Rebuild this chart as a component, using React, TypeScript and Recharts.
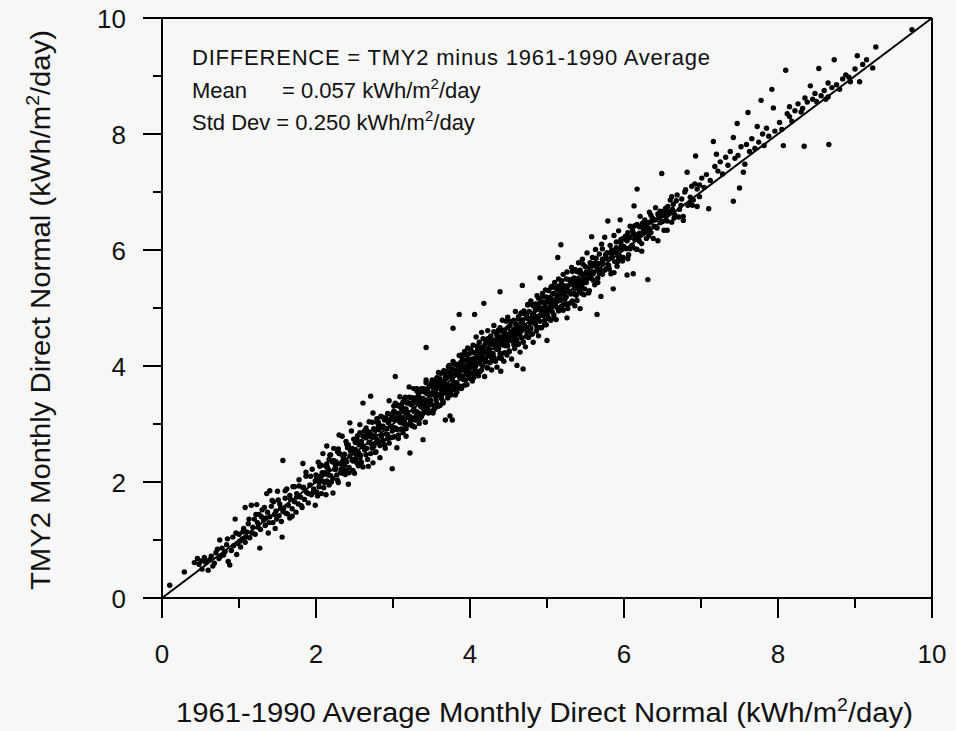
import React from 'react';
import { ScatterChart, Scatter, XAxis, YAxis, ReferenceLine } from 'recharts';

// axis ticks (every unit, labels on even values)
const xTicks = [0, 1, 2, 3, 4, 5, 6, 7, 8, 9, 10];
const yTicks = [0, 1, 2, 3, 4, 5, 6, 7, 8, 9, 10];

// points: [1961-1990 average, TMY2]
const ptsLow = [
  [0.10, 0.22], [0.29, 0.45], [0.42, 0.61], [0.46, 0.68], [0.50, 0.64], [0.55, 0.70], [0.58, 0.62], [0.62, 0.66],
  [0.66, 0.55], [0.60, 0.48], [0.52, 0.50], [0.70, 0.78], [0.74, 0.68], [0.75, 1.00], [0.78, 0.86], [0.80, 0.74],
  [0.84, 0.92], [0.88, 0.57], [0.86, 0.63], [0.90, 0.82], [0.92, 1.05], [0.95, 1.36], [0.97, 0.75], [0.98, 0.94],
  [1.00, 1.10], [1.02, 0.88], [1.04, 1.02], [1.06, 1.20], [1.08, 1.56], [1.08, 0.96], [1.10, 1.14], [1.12, 1.28],
  [1.14, 1.04], [1.16, 1.60], [1.18, 1.22], [1.20, 1.36], [1.21, 1.10], [1.23, 1.61], [1.24, 1.30], [1.26, 1.44],
  [1.27, 0.86], [1.28, 1.18], [1.30, 1.52], [1.32, 1.34], [1.34, 1.25], [1.36, 1.80], [1.37, 1.48], [1.38, 1.12],
  [1.40, 1.40], [1.40, 1.85], [1.42, 1.58], [1.44, 1.30], [1.45, 1.66], [1.47, 1.20], [1.48, 1.50], [1.50, 1.84],
  [1.52, 1.42], [1.53, 1.62], [1.55, 1.32], [1.56, 1.05], [1.57, 2.37], [1.58, 1.55], [1.60, 1.72], [1.61, 1.46],
  [1.62, 1.88], [1.64, 1.60], [1.66, 1.38], [1.67, 1.70], [1.69, 1.54], [1.70, 1.92], [1.72, 1.66], [1.74, 1.48],
  [1.75, 1.80], [1.77, 1.62], [1.78, 2.04], [1.80, 1.74], [1.82, 1.56], [1.83, 2.32], [1.83, 1.90], [1.85, 1.70],
  [1.87, 2.10], [1.88, 1.82], [1.90, 1.64], [1.92, 1.95], [1.94, 1.78], [1.95, 2.22], [1.97, 1.88], [1.99, 1.60],
  [0.48, 0.58], [0.56, 0.62], [0.64, 0.72], [0.68, 0.60], [0.72, 0.84], [0.76, 0.72], [0.82, 0.80], [0.85, 1.02],
  [0.93, 0.90], [0.96, 1.12], [1.01, 0.98], [1.05, 1.14], [1.09, 1.05], [1.13, 1.36], [1.17, 1.12], [1.22, 1.44],
  [1.25, 1.22], [1.29, 1.40], [1.33, 1.56], [1.35, 1.38], [1.39, 1.30], [1.43, 1.68], [1.46, 1.44], [1.49, 1.36],
  [1.51, 1.69], [1.54, 1.55], [1.57, 1.49], [1.60, 1.85], [1.63, 1.45], [1.66, 1.77], [1.69, 1.41], [1.72, 1.92],
  [1.75, 1.74], [1.78, 1.93], [1.81, 1.59], [1.84, 1.91], [1.87, 2.17], [1.90, 1.80], [1.93, 2.10], [1.96, 1.82],
  [1.99, 2.02],
];

const pts2to3 = [
  [2.00, 2.12], [2.01, 1.83], [2.03, 2.34], [2.04, 1.99], [2.05, 2.27], [2.07, 1.80], [2.08, 2.16], [2.09, 2.49],
  [2.11, 1.99], [2.12, 2.14], [2.13, 1.78], [2.14, 2.31], [2.14, 2.62], [2.16, 2.21], [2.17, 1.95], [2.18, 2.46],
  [2.19, 2.11], [2.21, 2.35], [2.22, 1.81], [2.23, 2.58], [2.24, 2.22], [2.26, 2.35], [2.27, 2.12], [2.28, 2.52],
  [2.29, 1.99], [2.30, 2.49], [2.30, 2.81], [2.32, 2.32], [2.33, 2.23], [2.34, 2.79], [2.35, 2.15], [2.37, 2.48],
  [2.38, 2.20], [2.39, 2.70], [2.40, 2.35], [2.42, 2.64], [2.42, 1.96], [2.43, 2.16], [2.44, 3.02], [2.45, 2.53],
  [2.46, 2.88], [2.48, 2.36], [2.49, 2.52], [2.50, 2.15], [2.51, 2.68], [2.52, 2.47], [2.54, 2.80], [2.55, 2.28],
  [2.56, 2.64], [2.57, 2.99], [2.58, 2.46], [2.60, 2.62], [2.61, 3.36], [2.61, 2.26], [2.62, 2.79], [2.63, 2.57],
  [2.65, 2.93], [2.66, 2.58], [2.67, 2.81], [2.68, 2.27], [2.69, 3.04], [2.70, 2.68], [2.71, 3.48], [2.72, 2.81],
  [2.73, 2.58], [2.74, 2.33], [2.74, 3.19], [2.76, 2.66], [2.77, 2.89], [2.78, 2.52], [2.79, 3.09], [2.80, 2.72],
  [2.81, 2.95], [2.83, 2.42], [2.84, 3.13], [2.85, 2.79], [2.86, 2.94], [2.87, 2.71], [2.88, 3.11], [2.90, 2.58],
  [2.91, 3.10], [2.92, 2.92], [2.93, 2.82], [2.95, 3.40], [2.96, 2.76], [2.97, 3.08], [2.99, 2.23], [2.99, 2.88],
  [2.06, 2.10], [2.15, 2.25], [2.25, 2.30], [2.36, 2.42], [2.47, 2.58], [2.59, 2.70], [2.70, 2.86], [2.82, 2.90],
  [2.94, 3.02], [2.02, 1.76], [2.05, 2.29], [2.08, 2.02], [2.11, 2.16], [2.14, 2.02], [2.17, 2.39], [2.20, 2.00],
  [2.23, 2.37], [2.26, 2.22], [2.29, 2.57], [2.32, 2.16], [2.35, 2.44], [2.38, 2.13], [2.41, 2.59], [2.44, 2.45],
  [2.47, 2.39], [2.49, 2.74], [2.01, 2.06], [2.04, 1.92], [2.07, 2.29], [2.10, 1.90], [2.13, 2.27], [2.16, 2.12],
  [2.19, 2.47], [2.22, 2.06], [2.25, 2.34], [2.28, 2.03], [2.31, 2.49], [2.34, 2.35], [2.37, 2.29], [2.40, 2.65],
  [2.43, 2.25], [2.46, 2.57], [2.48, 2.20],
];

const pts3to4 = [
  [3.00, 2.94], [3.01, 3.22], [3.02, 2.78], [3.03, 3.36], [3.03, 3.82], [3.04, 3.08], [3.05, 2.59], [3.05, 2.91],
  [3.06, 3.33], [3.07, 2.75], [3.08, 3.18], [3.09, 3.47], [3.10, 2.91], [3.11, 3.26], [3.12, 3.09], [3.13, 3.38],
  [3.13, 2.85], [3.14, 3.21], [3.15, 3.04], [3.16, 3.46], [3.17, 2.79], [3.18, 3.36], [3.19, 3.19], [3.20, 2.99],
  [3.21, 3.64], [3.22, 2.50], [3.22, 3.13], [3.23, 3.36], [3.24, 2.98], [3.25, 3.45], [3.26, 3.10], [3.27, 3.61],
  [3.28, 2.95], [3.29, 3.45], [3.30, 3.14], [3.31, 3.57], [3.32, 3.19], [3.33, 3.36], [3.34, 3.01], [3.35, 3.55],
  [3.36, 3.30], [3.37, 3.13], [3.38, 3.42], [3.39, 2.73], [3.39, 3.18], [3.40, 3.61], [3.41, 3.31], [3.42, 3.03],
  [3.43, 4.32], [3.43, 3.76], [3.44, 3.25], [3.45, 3.60], [3.46, 3.19], [3.47, 3.37], [3.48, 3.51], [3.49, 3.21],
  [3.50, 3.71], [3.51, 3.54], [3.52, 3.19], [3.53, 3.67], [3.54, 3.27], [3.55, 3.62], [3.56, 3.41], [3.57, 3.80],
  [3.58, 3.30], [3.59, 3.49], [3.60, 3.71], [3.61, 3.32], [3.62, 3.87], [3.63, 3.44], [3.64, 3.53], [3.65, 3.36],
  [3.66, 3.92], [3.67, 3.55], [3.68, 3.07], [3.68, 3.81], [3.69, 3.53], [3.70, 3.79], [3.71, 3.45], [3.72, 3.99],
  [3.73, 3.64], [3.74, 3.14], [3.74, 3.90], [3.75, 3.55], [3.76, 3.81], [3.77, 3.07], [3.77, 3.68], [3.78, 4.65],
  [3.78, 4.08], [3.79, 3.60], [3.80, 3.85], [3.81, 3.50], [3.82, 4.02], [3.83, 3.71], [3.84, 3.95], [3.85, 3.62],
  [3.86, 4.89], [3.86, 4.18], [3.87, 3.79], [3.88, 4.06], [3.89, 3.61], [3.90, 4.12], [3.91, 3.83], [3.92, 3.99],
  [3.93, 4.25], [3.94, 3.76], [3.95, 4.10], [3.96, 3.68], [3.97, 4.31], [3.98, 3.92], [3.99, 4.05],
  [3.02, 3.07], [3.06, 3.12], [3.11, 3.02], [3.15, 3.24], [3.19, 3.11], [3.24, 3.33], [3.27, 3.22], [3.31, 3.40],
  [3.36, 3.44], [3.40, 3.33], [3.44, 3.52], [3.48, 3.39], [3.52, 3.63], [3.55, 3.48], [3.59, 3.66], [3.63, 3.58],
  [3.66, 3.73], [3.70, 3.62], [3.73, 3.84], [3.77, 3.85], [3.80, 3.71], [3.84, 3.92], [3.88, 3.82], [3.91, 4.01],
  [3.95, 3.90], [3.98, 4.12],
];

const pts4to5 = [
  [4.00, 3.88], [4.01, 4.27], [4.02, 4.05], [4.03, 3.74], [4.04, 4.36], [4.05, 4.12], [4.06, 4.89], [4.06, 3.95],
  [4.07, 4.22], [4.08, 4.50], [4.09, 3.86], [4.10, 4.28], [4.11, 4.04], [4.12, 4.41], [4.13, 3.90], [4.14, 4.19],
  [4.15, 4.58], [4.16, 4.01], [4.17, 4.33], [4.18, 5.08], [4.18, 4.12], [4.19, 3.82], [4.20, 4.44], [4.21, 4.26],
  [4.22, 3.97], [4.23, 4.61], [4.24, 4.18], [4.25, 4.39], [4.26, 4.06], [4.27, 4.52], [4.28, 3.93], [4.29, 4.37],
  [4.30, 4.21], [4.31, 4.70], [4.32, 4.10], [4.33, 4.45], [4.34, 4.29], [4.35, 3.98], [4.36, 4.58], [4.37, 4.33],
  [4.38, 4.14], [4.39, 5.28], [4.39, 4.66], [4.40, 3.91], [4.40, 4.42], [4.41, 4.21], [4.42, 4.79], [4.43, 4.48],
  [4.44, 4.08], [4.45, 4.62], [4.46, 4.35], [4.47, 4.55], [4.48, 4.19], [4.49, 4.84], [4.50, 4.43], [4.51, 4.26],
  [4.52, 4.70], [4.53, 4.51], [4.54, 4.12], [4.55, 4.77], [4.56, 4.45], [4.57, 4.63], [4.58, 4.30], [4.59, 4.94],
  [4.60, 4.52], [4.61, 4.01], [4.61, 4.71], [4.62, 4.37], [4.63, 4.85], [4.64, 4.55], [4.65, 4.24], [4.66, 4.90],
  [4.67, 4.61], [4.68, 5.39], [4.68, 4.74], [4.69, 3.95], [4.69, 4.42], [4.70, 4.95], [4.71, 4.65], [4.72, 4.33],
  [4.73, 4.88], [4.74, 4.58], [4.75, 5.06], [4.76, 4.49], [4.77, 4.80], [4.78, 4.62], [4.79, 5.12], [4.80, 4.55],
  [4.81, 4.87], [4.82, 4.41], [4.83, 5.03], [4.84, 4.73], [4.85, 4.96], [4.86, 4.60], [4.87, 5.21], [4.88, 4.81],
  [4.89, 4.52], [4.90, 5.08], [4.91, 5.52], [4.91, 4.77], [4.92, 4.98], [4.93, 4.66], [4.94, 5.25], [4.95, 4.88],
  [4.96, 5.10], [4.97, 4.71], [4.98, 5.31], [4.99, 4.92],
  [4.02, 4.10], [4.05, 4.01], [4.09, 4.16], [4.13, 4.09], [4.16, 4.25], [4.20, 4.13], [4.24, 4.30], [4.27, 4.22],
  [4.31, 4.38], [4.35, 4.30], [4.38, 4.47], [4.42, 4.36], [4.45, 4.53], [4.49, 4.45], [4.53, 4.60], [4.56, 4.52],
  [4.60, 4.67], [4.64, 4.60], [4.67, 4.76], [4.71, 4.70], [4.75, 4.83], [4.78, 4.75], [4.82, 4.90], [4.86, 4.81],
  [4.89, 4.98], [4.93, 4.89], [4.97, 5.02],
];

// the solid core of the band between 2.5 and 5.5
const ptsCore = [
  [2.51, 2.56], [2.51, 2.39], [2.53, 2.75], [2.53, 2.33], [2.55, 2.69], [2.55, 2.51], [2.57, 2.85], [2.57, 2.41],
  [2.59, 2.68], [2.59, 2.34], [2.61, 2.79], [2.61, 2.62], [2.63, 2.55], [2.63, 2.88], [2.65, 2.47], [2.65, 2.76],
  [2.67, 2.39], [2.67, 2.87], [2.69, 2.68], [2.69, 2.84], [2.71, 2.49], [2.71, 2.78], [2.73, 3.03], [2.73, 2.63],
  [2.75, 2.92], [2.75, 2.61], [2.77, 2.80], [2.77, 2.51], [2.79, 3.03], [2.79, 2.73], [2.81, 2.69], [2.81, 3.03],
  [2.83, 2.63], [2.83, 2.97], [2.85, 2.81], [2.85, 3.13], [2.87, 2.71], [2.87, 2.96], [2.89, 2.64], [2.89, 3.07],
  [2.91, 2.92], [2.91, 2.83], [2.93, 3.18], [2.93, 2.75], [2.95, 3.06], [2.95, 2.67], [2.97, 3.17], [2.97, 2.96],
  [2.99, 3.14], [2.99, 2.77], [3.01, 3.08], [3.01, 3.31], [3.03, 2.93], [3.03, 3.20], [3.05, 2.91], [3.05, 3.08],
  [3.07, 2.81], [3.07, 3.31], [3.09, 3.03], [3.09, 3.14], [3.11, 3.33], [3.11, 2.91], [3.13, 3.27], [3.13, 3.09],
  [3.15, 3.43], [3.15, 2.99], [3.17, 3.26], [3.17, 2.92], [3.19, 3.37], [3.19, 3.20], [3.21, 3.13], [3.21, 3.46],
  [3.23, 3.05], [3.23, 3.34], [3.25, 2.97], [3.25, 3.45], [3.27, 3.26], [3.27, 3.42], [3.29, 3.07], [3.29, 3.36],
  [3.31, 3.61], [3.31, 3.21], [3.33, 3.50], [3.33, 3.19], [3.35, 3.38], [3.35, 3.09], [3.37, 3.61], [3.37, 3.31],
  [3.39, 3.44], [3.39, 3.27], [3.41, 3.21], [3.41, 3.55], [3.43, 3.39], [3.43, 3.71], [3.45, 3.29], [3.45, 3.54],
  [3.47, 3.22], [3.47, 3.65], [3.49, 3.50], [3.49, 3.41], [3.51, 3.76], [3.51, 3.33], [3.53, 3.64], [3.53, 3.25],
  [3.55, 3.75], [3.55, 3.54], [3.57, 3.72], [3.57, 3.35], [3.59, 3.66], [3.59, 3.89], [3.61, 3.51], [3.61, 3.78],
  [3.63, 3.49], [3.63, 3.66], [3.65, 3.39], [3.65, 3.89], [3.67, 3.61], [3.67, 3.72], [3.69, 3.57], [3.69, 3.91],
  [3.71, 3.85], [3.71, 3.67], [3.73, 4.01], [3.73, 3.57], [3.75, 3.84], [3.75, 3.50], [3.77, 3.95], [3.77, 3.78],
  [3.79, 3.71], [3.79, 4.04], [3.81, 3.63], [3.81, 3.92], [3.83, 3.55], [3.83, 4.03], [3.85, 3.84], [3.85, 4.00],
  [3.87, 3.65], [3.87, 3.94], [3.89, 4.19], [3.89, 3.79], [3.91, 4.08], [3.91, 3.77], [3.93, 3.96], [3.93, 3.67],
  [3.95, 4.19], [3.95, 3.89], [3.97, 4.02], [3.97, 3.85], [3.99, 4.21], [3.99, 3.79], [4.01, 3.97], [4.01, 4.29],
  [4.03, 3.87], [4.03, 4.12], [4.05, 3.80], [4.05, 4.23], [4.07, 4.08], [4.07, 3.99], [4.09, 4.34], [4.09, 3.91],
  [4.11, 4.22], [4.11, 3.83], [4.13, 4.33], [4.13, 4.12], [4.15, 4.30], [4.15, 3.93], [4.17, 4.24], [4.17, 4.47],
  [4.19, 4.09], [4.19, 4.36], [4.21, 4.07], [4.21, 4.24], [4.23, 3.97], [4.23, 4.47], [4.25, 4.19], [4.25, 4.30],
  [4.27, 4.15], [4.27, 4.49], [4.29, 4.09], [4.29, 4.43], [4.31, 4.59], [4.31, 4.15], [4.33, 4.42], [4.33, 4.08],
  [4.35, 4.53], [4.35, 4.36], [4.37, 4.29], [4.37, 4.62], [4.39, 4.21], [4.39, 4.50], [4.41, 4.13], [4.41, 4.61],
  [4.43, 4.42], [4.43, 4.58], [4.45, 4.23], [4.45, 4.52], [4.47, 4.77], [4.47, 4.37], [4.49, 4.66], [4.49, 4.35],
  [4.51, 4.54], [4.51, 4.25], [4.53, 4.77], [4.53, 4.47], [4.55, 4.60], [4.55, 4.43], [4.57, 4.79], [4.57, 4.37],
  [4.59, 4.73], [4.59, 4.55], [4.61, 4.45], [4.61, 4.70], [4.63, 4.38], [4.63, 4.81], [4.65, 4.66], [4.65, 4.57],
  [4.67, 4.92], [4.67, 4.49], [4.69, 4.80], [4.69, 4.41], [4.71, 4.91], [4.71, 4.70], [4.73, 4.88], [4.73, 4.51],
  [4.75, 4.82], [4.75, 5.05], [4.77, 4.67], [4.77, 4.94], [4.79, 4.65], [4.79, 4.82], [4.81, 4.55], [4.81, 5.05],
  [4.83, 4.77], [4.83, 4.88], [4.85, 4.73], [4.85, 5.07], [4.87, 4.67], [4.87, 5.01], [4.89, 4.85], [4.89, 5.17],
  [4.91, 5.00], [4.91, 4.66], [4.93, 5.11], [4.93, 4.94], [4.95, 4.87], [4.95, 5.20], [4.97, 4.79], [4.97, 5.08],
  [4.99, 4.71], [4.99, 5.19], [5.01, 5.00], [5.01, 5.16], [5.03, 4.81], [5.03, 5.10], [5.05, 5.35], [5.05, 4.95],
  [5.07, 5.24], [5.07, 4.93], [5.09, 5.12], [5.09, 4.83], [5.11, 5.35], [5.11, 5.05], [5.13, 5.18], [5.13, 5.01],
  [5.15, 5.37], [5.15, 4.95], [5.17, 5.31], [5.17, 5.13], [5.19, 5.47], [5.19, 5.03], [5.21, 4.96], [5.21, 5.39],
  [5.23, 5.24], [5.23, 5.15], [5.25, 5.50], [5.25, 5.07], [5.27, 5.38], [5.27, 4.99], [5.29, 5.49], [5.29, 5.28],
  [5.31, 5.46], [5.31, 5.09], [5.33, 5.40], [5.33, 5.63], [5.35, 5.25], [5.35, 5.52], [5.37, 5.23], [5.37, 5.40],
  [5.39, 5.13], [5.39, 5.63], [5.41, 5.35], [5.41, 5.46], [5.43, 5.31], [5.43, 5.65], [5.45, 5.25], [5.45, 5.59],
  [5.47, 5.43], [5.47, 5.75], [5.49, 5.33], [5.49, 5.58],
];

const pts5to6 = [
  [5.00, 4.44], [5.00, 5.11], [5.01, 4.86], [5.02, 5.30], [5.03, 4.95], [5.04, 5.18], [5.05, 4.79], [5.06, 5.37],
  [5.07, 5.02], [5.08, 5.25], [5.09, 4.88], [5.10, 5.44], [5.11, 5.09], [5.12, 4.80], [5.13, 5.31], [5.14, 5.87],
  [5.14, 5.12], [5.15, 5.50], [5.16, 4.97], [5.17, 5.24], [5.18, 6.09], [5.18, 5.40], [5.19, 5.01], [5.20, 5.33],
  [5.21, 5.58], [5.22, 5.06], [5.24, 5.37], [5.25, 5.19], [5.26, 4.83], [5.26, 5.62], [5.27, 5.30], [5.28, 5.07],
  [5.29, 5.49], [5.31, 5.24], [5.32, 5.70], [5.33, 5.12], [5.34, 5.45], [5.36, 5.04], [5.36, 5.33], [5.37, 5.66],
  [5.38, 5.22], [5.40, 5.51], [5.41, 5.78], [5.42, 5.29], [5.43, 4.99], [5.43, 5.60], [5.45, 5.38], [5.46, 5.84],
  [5.47, 5.50], [5.48, 5.23], [5.50, 5.71], [5.51, 5.44], [5.52, 5.95], [5.54, 5.59], [5.55, 5.30], [5.56, 5.78],
  [5.58, 6.23], [5.58, 5.51], [5.59, 5.87], [5.61, 5.62], [5.62, 5.40], [5.63, 6.01], [5.65, 4.89], [5.65, 5.70],
  [5.66, 5.52], [5.68, 5.93], [5.69, 5.66], [5.70, 5.20], [5.71, 6.10], [5.72, 5.58], [5.74, 5.84], [5.75, 6.22],
  [5.77, 5.68], [5.78, 5.95], [5.79, 6.50], [5.80, 5.74], [5.82, 6.08], [5.83, 5.59], [5.85, 5.96], [5.86, 5.33],
  [5.87, 6.25], [5.88, 5.80], [5.90, 6.04], [5.91, 5.72], [5.93, 6.33], [5.94, 5.90], [5.95, 6.52], [5.96, 6.12],
  [5.98, 5.81], [5.99, 6.20],
  [5.03, 5.10], [5.08, 5.14], [5.13, 5.22], [5.17, 5.28], [5.22, 5.30], [5.27, 5.38], [5.31, 5.42], [5.36, 5.46],
  [5.41, 5.49], [5.46, 5.57], [5.51, 5.60], [5.56, 5.66], [5.61, 5.73], [5.67, 5.77], [5.72, 5.84], [5.78, 5.85],
  [5.84, 5.93], [5.90, 5.98], [5.96, 6.05],
  [5.51, 5.62], [5.54, 5.26], [5.57, 5.77], [5.60, 5.59], [5.63, 5.78], [5.66, 5.44], [5.69, 5.76], [5.72, 6.02],
  [5.75, 5.65], [5.78, 5.95], [5.81, 5.67], [5.84, 5.87], [5.87, 5.61], [5.90, 6.14], [5.93, 5.87], [5.96, 6.01],
  [5.99, 5.87], [5.52, 5.50], [5.56, 5.70], [5.60, 5.48], [5.64, 5.86], [5.68, 5.60], [5.72, 5.79], [5.76, 5.92],
  [5.80, 5.70], [5.84, 6.00], [5.88, 5.95], [5.92, 5.80], [5.96, 6.18],
];

const pts6to8 = [
  [6.02, 6.18], [6.04, 5.57], [6.05, 6.30], [6.06, 5.92], [6.08, 6.41], [6.10, 6.08], [6.12, 6.27], [6.12, 5.59],
  [6.13, 6.76], [6.15, 6.02], [6.17, 7.05], [6.17, 6.44], [6.19, 6.23], [6.21, 6.58], [6.23, 6.11], [6.25, 6.36],
  [6.27, 6.52], [6.29, 6.20], [6.31, 5.49], [6.31, 6.47], [6.33, 6.65], [6.35, 6.30], [6.37, 6.55], [6.39, 6.41],
  [6.41, 6.73], [6.43, 6.38], [6.45, 6.60], [6.47, 6.47], [6.49, 7.32], [6.50, 6.66], [6.52, 6.34], [6.54, 6.72],
  [6.56, 6.50], [6.58, 6.63], [6.60, 6.86], [6.62, 6.48], [6.64, 6.79], [6.66, 6.61], [6.69, 6.95], [6.72, 6.70],
  [6.75, 6.88], [6.77, 6.58], [6.79, 7.00], [6.82, 7.34], [6.85, 6.81], [6.88, 7.10], [6.90, 6.86], [6.93, 7.62],
  [6.95, 7.05], [6.98, 6.92], [7.01, 7.24], [7.04, 7.08], [7.07, 7.30], [7.10, 6.71], [7.12, 7.20], [7.16, 7.87],
  [7.18, 7.44], [7.20, 7.65], [7.22, 7.36], [7.25, 7.52], [7.28, 7.31], [7.32, 7.60], [7.35, 7.46], [7.38, 7.70],
  [7.42, 6.84], [7.42, 7.94], [7.44, 7.58], [7.47, 8.18], [7.48, 7.63], [7.50, 7.07], [7.52, 7.78], [7.55, 7.34],
  [7.57, 7.48], [7.59, 7.82], [7.61, 8.37], [7.63, 7.70], [7.66, 7.92], [7.70, 7.75], [7.73, 8.13], [7.75, 7.86],
  [7.78, 8.58], [7.80, 8.00], [7.82, 7.80], [7.85, 8.10], [7.88, 7.96], [7.92, 8.77], [7.94, 8.45], [7.96, 8.05],
  [6.03, 6.02], [6.07, 6.21], [6.11, 6.35], [6.14, 6.18], [6.20, 6.40], [6.24, 6.29], [6.28, 6.42], [6.34, 6.48],
  [6.40, 6.52], [6.46, 6.56], [6.53, 6.59], [6.57, 6.75], [6.63, 6.70],
  [6.02, 6.24], [6.05, 5.85], [6.08, 6.22], [6.11, 6.07], [6.14, 6.42], [6.17, 6.01], [6.20, 6.29], [6.23, 5.98],
  [6.26, 6.44], [6.29, 6.30], [6.32, 6.24], [6.35, 6.60], [6.38, 6.20], [6.41, 6.52], [6.44, 6.16], [6.47, 6.67],
  [6.50, 6.49], [6.53, 6.68], [6.56, 6.34], [6.59, 6.66], [6.62, 6.92], [6.65, 6.55], [6.68, 6.85], [6.71, 6.57],
  [6.74, 6.77], [6.77, 6.51], [6.80, 7.04], [6.83, 6.77], [6.86, 6.91], [6.89, 6.77], [6.92, 7.14], [6.95, 6.75],
  [6.98, 7.12], [6.00, 6.06], [6.04, 6.16], [6.08, 6.02], [6.12, 6.30], [6.16, 6.26], [6.20, 6.15], [6.24, 6.46],
  [6.28, 6.36], [6.32, 6.38], [6.36, 6.50], [6.40, 6.40], [6.44, 6.62], [6.48, 6.58],
];

const ptsHigh = [
  [8.02, 8.20], [8.05, 8.08], [8.07, 7.80], [8.10, 9.10], [8.12, 8.35], [8.15, 8.30], [8.15, 8.47], [8.18, 8.22],
  [8.22, 8.40], [8.26, 8.52], [8.30, 8.38], [8.32, 8.44], [8.34, 7.79], [8.35, 8.62], [8.38, 8.55], [8.42, 8.83],
  [8.45, 8.60], [8.48, 8.70], [8.50, 8.56], [8.53, 9.13], [8.56, 8.66], [8.60, 8.75], [8.62, 8.60], [8.65, 8.64],
  [8.65, 8.88], [8.66, 7.82], [8.70, 8.80], [8.73, 9.28], [8.76, 8.85], [8.80, 8.77], [8.84, 8.95], [8.88, 9.02],
  [8.92, 8.98], [8.94, 8.90], [9.00, 9.12], [9.03, 9.35], [9.06, 8.90], [9.10, 9.20], [9.15, 9.28], [9.23, 9.14],
  [9.27, 9.50], [9.74, 9.80],
];

const points = [...ptsLow, ...pts2to3, ...pts3to4, ...pts4to5, ...ptsCore, ...pts5to6, ...pts6to8, ...ptsHigh].map(
  ([x, y]) => ({ x, y })
);

const font = '"Liberation Sans", Arial, Helvetica, sans-serif';

function XTick(props: any) {
  const { x, y, payload } = props;
  const major = payload.value % 2 === 0;
  return (
    <g>
      <line x1={x} y1={y} x2={x} y2={y + (major ? 20 : 10)} stroke="#000" strokeWidth={2} />
      {major && (
        <text x={x} y={y + 65} textAnchor="middle" fontSize={26} fontFamily={font} fill="#111">
          {payload.value}
        </text>
      )}
    </g>
  );
}

function YTick(props: any) {
  const { x, y, payload } = props;
  const major = payload.value % 2 === 0;
  return (
    <g>
      <line x1={x} y1={y} x2={x - (major ? 19 : 9)} y2={y} stroke="#000" strokeWidth={2} />
      {major && (
        <text x={x - 36} y={y + 9.5} textAnchor="end" fontSize={26} fontFamily={font} fill="#111">
          {payload.value}
        </text>
      )}
    </g>
  );
}

const Dot = (props: any) => <circle cx={props.cx} cy={props.cy} r={2.7} fill="#000" />;

export default function App() {
  return (
    <div style={{ position: 'absolute', left: 0, top: 0, width: 956, height: 731, background: '#f7f7f7' }}>
      <ScatterChart width={956} height={731} margin={{ top: 18, right: 24, bottom: 53, left: 62 }}>
        <XAxis
          type="number"
          dataKey="x"
          domain={[0, 10]}
          ticks={xTicks}
          interval={0}
          tickSize={0}
          tickMargin={0}
          tickLine={false}
          tick={<XTick />}
          height={80}
          axisLine={{ stroke: '#000', strokeWidth: 2 }}
        />
        <YAxis
          type="number"
          dataKey="y"
          domain={[0, 10]}
          ticks={yTicks}
          interval={0}
          tickSize={0}
          tickMargin={0}
          tickLine={false}
          tick={<YTick />}
          width={100}
          axisLine={{ stroke: '#000', strokeWidth: 2 }}
        />
        <ReferenceLine y={10} stroke="#000" strokeWidth={2} />
        <ReferenceLine x={10} stroke="#000" strokeWidth={2} />
        <ReferenceLine segment={[{ x: 0, y: 0 }, { x: 10, y: 10 }]} stroke="#000" strokeWidth={2} />
        <Scatter data={points} shape={<Dot />} isAnimationActive={false} />
      </ScatterChart>
      <svg
        width={956}
        height={731}
        style={{ position: 'absolute', left: 0, top: 0, pointerEvents: 'none' }}
        fontFamily={font}
        fill="#111"
      >
        <text x={192} y={65} fontSize={22} textLength={518} lengthAdjust="spacing">
          DIFFERENCE = TMY2 minus 1961-1990 Average
        </text>
        <text x={192} y={98} fontSize={22}>
          Mean
          <tspan x={282}>= 0.057 kWh/m</tspan>
          <tspan dy={-9} fontSize={15}>2</tspan>
          <tspan dy={9}>/day</tspan>
        </text>
        <text x={192} y={130} fontSize={22}>
          Std Dev = 0.250 kWh/m
          <tspan dy={-9} fontSize={15}>2</tspan>
          <tspan dy={9}>/day</tspan>
        </text>
        <text x={176} y={722} fontSize={27} textLength={737} lengthAdjust="spacingAndGlyphs">
          1961-1990 Average Monthly Direct Normal (kWh/m
          <tspan dy={-11} fontSize={18}>2</tspan>
          <tspan dy={11}>/day)</tspan>
        </text>
        <text
          transform="translate(50, 310) rotate(-90)"
          x={0}
          y={0}
          textAnchor="middle"
          fontSize={27}
          textLength={560}
          lengthAdjust="spacingAndGlyphs"
        >
          TMY2 Monthly Direct Normal (kWh/m
          <tspan dy={-11} fontSize={18}>2</tspan>
          <tspan dy={11}>/day)</tspan>
        </text>
      </svg>
    </div>
  );
}
